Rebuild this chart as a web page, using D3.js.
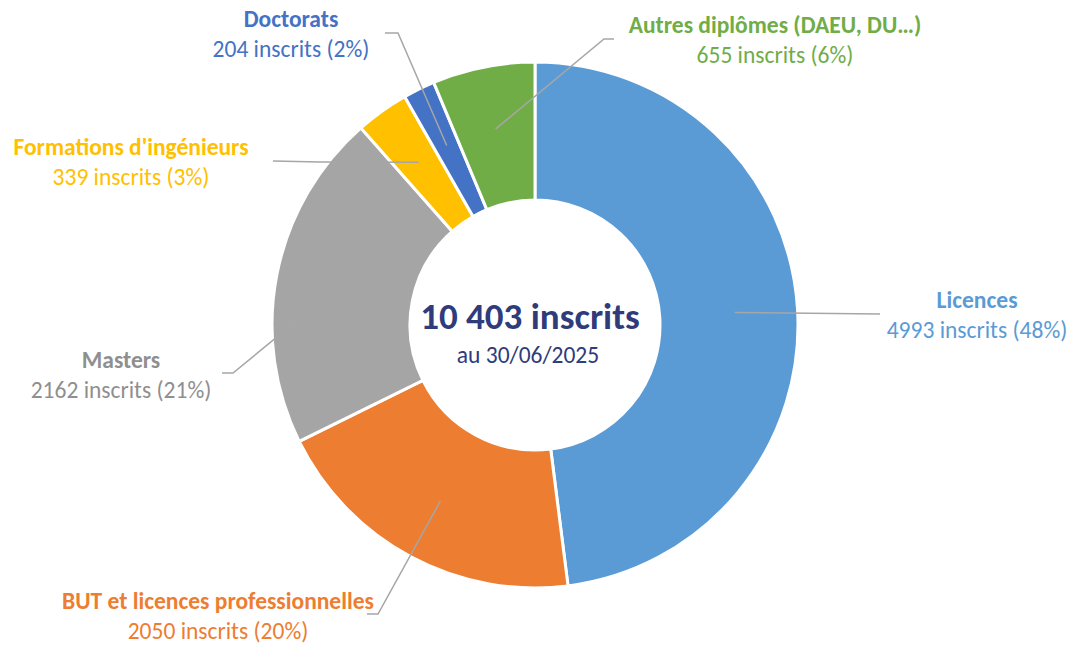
<!DOCTYPE html>
<html>
<head>
<meta charset="utf-8">
<script src="https://cdn.jsdelivr.net/npm/d3@7"></script>
<style>
  body { margin: 0; background: #fff; }
  svg { font-family: Carlito, Calibri, Lato, sans-serif; }
</style>
</head>
<body>
<div id="donut"></div>
<script>
// data
const categories = ['Licences', 'BUT et licences professionnelles', 'Masters', "Formations d'ingénieurs", 'Doctorats', 'Autres diplômes (DAEU, DU…)'];
const inscrits = [4993, 2050, 2162, 339, 204, 655];
const colors = ['#5B9BD5', '#ED7D31', '#A5A5A5', '#FFC000', '#4472C4', '#70AD47'];
const labelColors = ['#5B9BD5', '#ED7D31', '#8F8F8F', '#FFC000', '#4472C4', '#70AD47'];
const totalLabel = '10 403 inscrits';
const dateLabel = 'au 30/06/2025';

// label layout: elbow point, end of leader, text centre
const labelLayout = [
    {elbow: [880, 314], end: [880, 314], text: [977, 300]},
    {elbow: [378, 614], end: [367, 614], text: [218, 601]},
    {elbow: [233, 373], end: [222, 373], text: [121, 360]},
    {elbow: [320, 162], end: [273, 161], text: [131, 147]},
    {elbow: [398, 33], end: [385, 33], text: [291, 19]},
    {elbow: [604, 39], end: [614, 39], text: [775, 25]}
];

const width = 1077;
const height = 648;
const cx = 535, cy = 325;
const outerR = 263, innerR = 125, leaderR = 200;

const data = categories.map((c, i) => ({name: c, value: inscrits[i], color: colors[i], labelColor: labelColors[i], layout: labelLayout[i]}));
const total = d3.sum(inscrits);

const svg = d3.select('#donut').append('svg')
    .attr('width', width)
    .attr('height', height);

const pie = d3.pie().sort(null).value(d => d.value);
const arc = d3.arc().innerRadius(innerR).outerRadius(outerR);
const leaderArc = d3.arc().innerRadius(leaderR).outerRadius(leaderR);

const arcs = pie(data);

const g = svg.append('g').attr('transform', `translate(${cx},${cy})`);

g.selectAll('.slice')
    .data(arcs)
    .join('path')
        .attr('class', 'slice')
        .attr('d', arc)
        .attr('fill', d => d.data.color)
        .attr('stroke', '#fff')
        .attr('stroke-width', 3)
        .attr('stroke-linejoin', 'miter');

// leader lines
svg.selectAll('.leader')
    .data(arcs)
    .join('polyline')
        .attr('class', 'leader')
        .attr('points', d => {
            const c = leaderArc.centroid(d);
            const l = d.data.layout;
            return [[c[0] + cx, c[1] + cy], l.elbow, l.end].map(p => p.join(',')).join(' ');
        })
        .attr('fill', 'none')
        .attr('stroke', '#A6A6A6')
        .attr('stroke-width', 1.5);

// labels
const labels = svg.selectAll('.label')
    .data(arcs)
    .join('text')
        .attr('class', 'label')
        .attr('x', d => d.data.layout.text[0])
        .attr('y', d => d.data.layout.text[1])
        .attr('text-anchor', 'middle')
        .attr('dominant-baseline', 'central')
        .attr('fill', d => d.data.labelColor)
        .style('font-size', '23.5px');

labels.append('tspan')
    .attr('x', d => d.data.layout.text[0])
    .style('font-weight', 'bold')
    .text(d => d.data.name);

labels.append('tspan')
    .attr('x', d => d.data.layout.text[0])
    .attr('dy', 30)
    .text(d => `${d.data.value} inscrits (${Math.round(d.data.value / total * 100)}%)`);

// centre text
svg.append('text')
    .attr('x', cx - 5)
    .attr('y', cy - 9)
    .attr('text-anchor', 'middle')
    .attr('dominant-baseline', 'central')
    .attr('fill', '#2F3B7A')
    .style('font-size', '37px')
    .style('font-weight', 'bold')
    .text(totalLabel);

svg.append('text')
    .attr('x', cx - 7)
    .attr('y', cy + 30)
    .attr('text-anchor', 'middle')
    .attr('dominant-baseline', 'central')
    .attr('fill', '#2F3B7A')
    .style('font-size', '23.5px')
    .text(dateLabel);
</script>
</body>
</html>
